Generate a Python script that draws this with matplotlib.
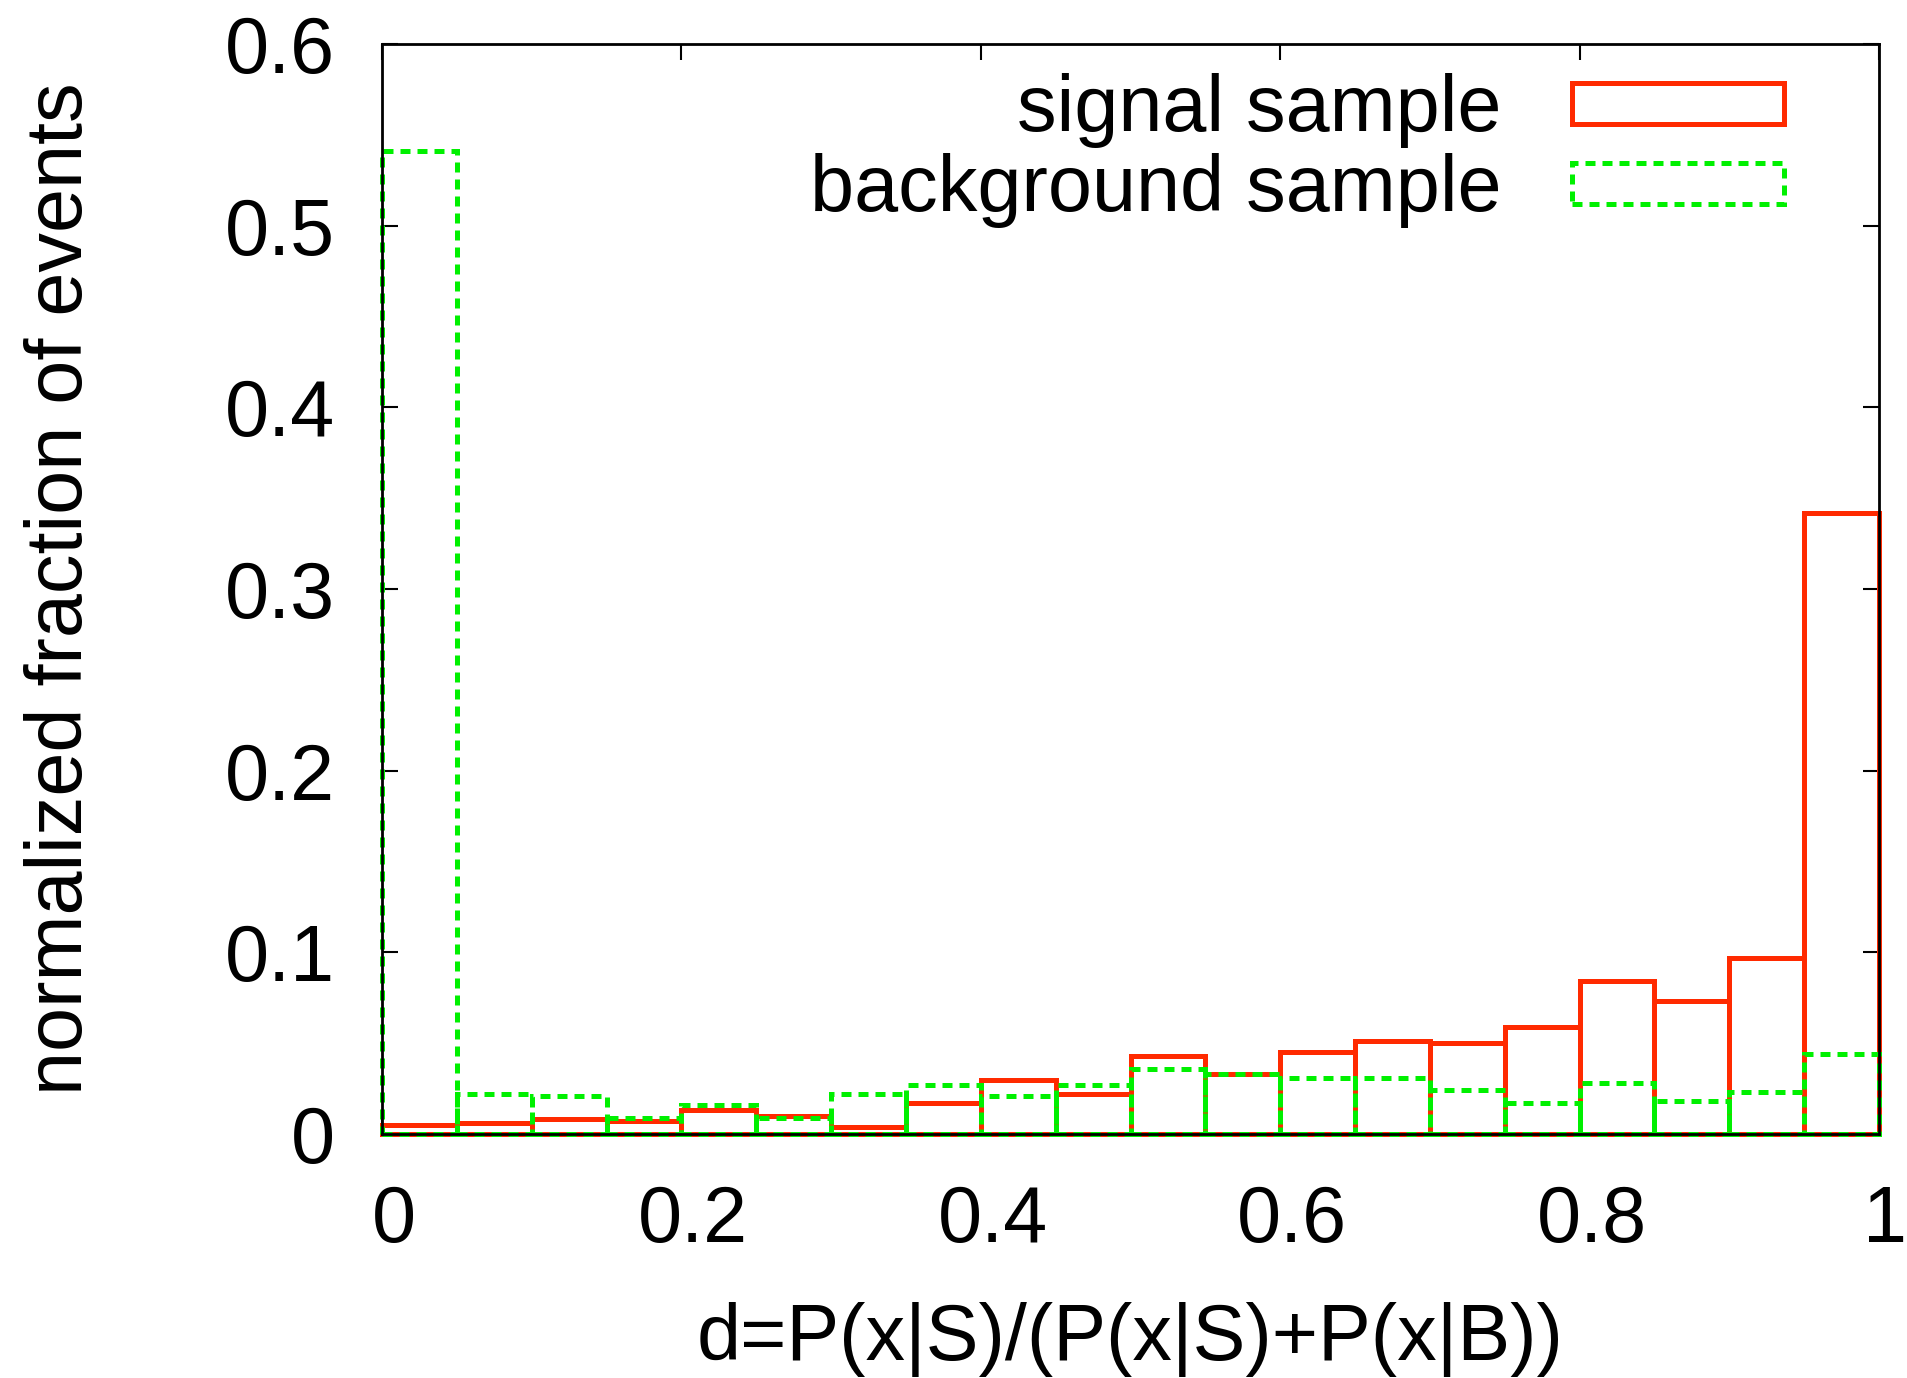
import numpy as np
import matplotlib
matplotlib.use("Agg")
import matplotlib.pyplot as plt
from matplotlib.patches import Rectangle
from matplotlib.transforms import ScaledTranslation

plt.rcParams["font.family"] = ["Liberation Sans", "DejaVu Sans"]

# Histogram of the discriminant d, 20 bins of width 0.05 on [0, 1]
bin_width = 0.05
bin_lo = np.round(np.arange(20) * bin_width, 2)

signal = [0.005, 0.006, 0.008, 0.007, 0.013, 0.010, 0.004, 0.017, 0.030, 0.022,
          0.043, 0.033, 0.045, 0.051, 0.050, 0.059, 0.084, 0.073, 0.097, 0.342]
background = [0.541, 0.022, 0.021, 0.009, 0.016, 0.009, 0.022, 0.027, 0.021, 0.027,
              0.036, 0.033, 0.031, 0.031, 0.024, 0.017, 0.028, 0.018, 0.023, 0.044]

series_names = ["signal sample", "background sample"]
x_ticks = [0, 0.2, 0.4, 0.6, 0.8, 1.0]
x_tick_labels = ["0", "0.2", "0.4", "0.6", "0.8", "1"]
y_ticks = [0, 0.1, 0.2, 0.3, 0.4, 0.5, 0.6]
y_tick_labels = ["0", "0.1", "0.2", "0.3", "0.4", "0.5", "0.6"]

RED = "#ff2a00"
GREEN = "#00f000"
FS = 57
LW = 3.6
DASH = (0, (2.0, 1.4))

W, H = 1907, 1378
fig = plt.figure(figsize=(W / 100, H / 100), dpi=100)
ax = fig.add_axes([382 / W, 1 - 1134 / H, 1497 / W, 1090 / H])

ax.bar(bin_lo, signal, width=bin_width, align="edge", fill=False,
       edgecolor=RED, linewidth=LW, clip_on=False, zorder=2)
ax.bar(bin_lo, background, width=bin_width, align="edge", fill=False,
       edgecolor=GREEN, linewidth=LW, linestyle=DASH, clip_on=False, zorder=2.1)

ax.set_xlim(0, 1)
ax.set_ylim(0, 0.6)
ax.set_xticks(x_ticks)
ax.set_xticklabels(x_tick_labels)
ax.set_yticks(y_ticks)
ax.set_yticklabels(y_tick_labels)

for s in ax.spines.values():
    s.set_linewidth(2.0)
    s.set_color("black")
    s.set_zorder(3)

ax.tick_params(axis="both", which="major", direction="in", top=True, right=True,
               length=11.5, width=1.5, labelsize=FS, color="black")
ax.tick_params(axis="x", pad=36)
ax.tick_params(axis="y", pad=34)

# Nudge x tick labels slightly right; the last one less so it stays on the canvas
labels = ax.get_xticklabels()
for i, lab in enumerate(labels):
    dx = 6 if i == len(labels) - 1 else 12
    lab.set_transform(lab.get_transform() +
                      ScaledTranslation(dx / 100, 0, fig.dpi_scale_trans))

ax.set_xlabel("d=P(x|S)/(P(x|S)+P(x|B))", fontsize=FS)
ax.set_ylabel("normalized fraction of events", fontsize=FS)
ax.xaxis.set_label_coords(0.5, -0.154)
ax.yaxis.set_label_coords(-0.189, 0.5)

# Key: labels right-aligned to the left of outlined sample boxes
key_rows = [
    (series_names[0], 0.9205, 0.9266, RED, "solid"),
    (series_names[1], 0.8470, 0.8532, GREEN, DASH),
]
for name, y_text, y_box, col, ls in key_rows:
    ax.text(0.748, y_text, name, transform=ax.transAxes, ha="right",
            va="baseline", fontsize=FS)
    ax.add_patch(Rectangle((0.795, y_box), 0.1416, 0.0380, transform=ax.transAxes,
                           fill=False, edgecolor=col, linewidth=LW, linestyle=ls,
                           clip_on=False, zorder=4))

fig.savefig("out.png", dpi=100)
